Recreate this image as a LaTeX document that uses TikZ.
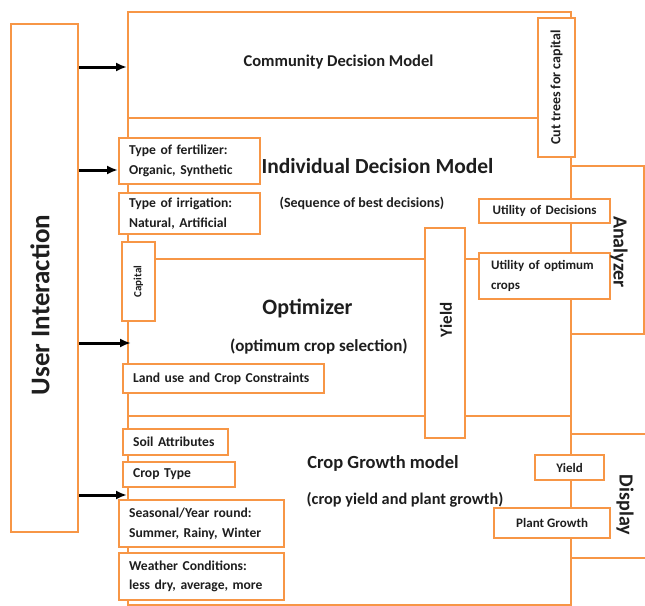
\documentclass[tikz,border=0pt]{standalone}
\usepackage{fontspec}
\setmainfont{Carlito}
\usetikzlibrary{arrows.meta}
\definecolor{frameorange}{RGB}{247,150,70}
\definecolor{inktext}{RGB}{30,30,30}
\begin{document}
\begin{tikzpicture}[x=1pt,y=-1pt,
  frame/.style={draw=frameorange, line width=2.2pt, fill=white, inner sep=0pt, anchor=north west},
  tagbox/.style={frame, align=left, inner xsep=10pt, inner ysep=0pt, text=inktext,
    font=\bfseries\fontsize{13.6}{19.5}\selectfont},
  ctrbox/.style={frame, align=center, text=inktext, font=\bfseries\fontsize{13}{16}\selectfont},
  heading/.style={inner sep=0pt, text=inktext, font=\bfseries\fontsize{#1}{#1}\selectfont},
  heading/.default=14,
  arrow/.style={draw=black, line width=3pt, -{Latex[length=11pt,width=9pt]}}
]
\useasboundingbox (0,0) rectangle (645,605);

% model layers
\node[frame, minimum width=443pt, minimum height=106pt] (community)  at (127,11)  {};
\node[frame, minimum width=443pt, minimum height=141pt] (individual) at (127,117) {};
\node[frame, minimum width=443pt, minimum height=157pt] (optimizer)  at (127,258) {};
\node[frame, minimum width=443pt, minimum height=189pt] (growth)     at (127,415) {};

% side panels
\node[frame, minimum width=73pt, minimum height=168pt] (analyzer) at (570,165) {};
\node[frame, minimum width=82pt, minimum height=124pt] (display)  at (570,433) {};
\node[frame, minimum width=67pt, minimum height=508pt] (ui)       at (10,23)   {};

% vertical boxes
\node[frame, anchor=center, rotate=90, minimum width=139pt, minimum height=37pt,
      text=inktext, font=\bfseries\fontsize{14}{14}\selectfont] (cut) at (556.5,87.5) {Cut trees for capital};
\node[frame, anchor=center, rotate=90, minimum width=79pt, minimum height=33pt,
      text=inktext, font=\bfseries\fontsize{11}{11}\selectfont] (capital) at (138.5,281.5) {Capital};
\node[frame, anchor=center, rotate=90, minimum width=210pt, minimum height=40pt] (yieldbox) at (445,333) {};

% inputs on the left
\node[tagbox, minimum height=46pt, text width=121pt] (fert)     at (118,137) {Type of fertilizer:\\Organic, Synthetic};
\node[tagbox, minimum height=41pt, text width=121pt] (irr)      at (118,192) {Type of irrigation:\\Natural, Artificial};
\node[tagbox, minimum height=29pt, text width=181pt] (land)     at (122,363) {Land use and Crop Constraints};
\node[tagbox, minimum height=26pt, text width=85pt]  (soil)     at (122,428) {Soil Attributes};
\node[tagbox, minimum height=25pt, text width=92pt]  (croptype) at (122,461) {Crop Type};
\node[tagbox, minimum height=47pt, text width=145pt] (seasonal) at (118,499) {Seasonal/Year round:\\Summer, Rainy, Winter};
\node[tagbox, minimum height=47pt, text width=145pt] (weather)  at (118,552) {Weather Conditions:\\less dry, average, more};

% outputs on the right
\node[tagbox, align=center, minimum height=24pt, text width=111pt,
      font=\bfseries\fontsize{13}{16}\selectfont] (utildec) at (478,198) {Utility of Decisions};
\node[tagbox, inner xsep=12pt, minimum height=46pt, text width=107pt,
      font=\bfseries\fontsize{13}{19.5}\selectfont] (utilopt) at (478,252) {Utility of optimum\\crops};
\node[ctrbox, minimum width=69pt, minimum height=25pt]  (yieldout) at (534,454) {Yield};
\node[ctrbox, minimum width=116pt, minimum height=30pt] (plant)    at (493,507) {Plant Growth};

% titles
\node[heading=16.5] (commtxt) at (338.5,62) {Community Decision Model};
\node[heading=21.5] (indtxt)  at (377.5,166) {Individual Decision Model};
\node[heading=14]   (seqtxt)  at (362,203) {(Sequence of best decisions)};
\node[heading=22]   (opttxt)  at (307.5,308) {Optimizer};
\node[heading=17]   (optsub)  at (319,347) {(optimum crop selection)};
\node[heading=18.5] (growtxt) at (383,463) {Crop Growth model};
\node[heading=16.3] (growsub) at (405,500) {(crop yield and plant growth)};
\node[heading=27, rotate=90]  (uitxt)    at (40,305)  {User Interaction};
\node[heading=20, rotate=-90] (anatxt)   at (619,252) {Analyzer};
\node[heading=20, rotate=-90] (distxt)   at (625,505) {Display};
\node[heading=17, rotate=90]  (yieldtxt) at (446,320) {Yield};

% user interaction feeds
\coordinate (in1) at (127,67);
\coordinate (in2) at (118,170);
\coordinate (in3) at (131,343);
\coordinate (in4) at (127,495);
\draw[arrow] (ui.east |- in1) -- (in1);
\draw[arrow] (ui.east |- in2) -- (in2);
\draw[arrow] (ui.east |- in3) -- (in3);
\draw[arrow] (ui.east |- in4) -- (in4);
\end{tikzpicture}
\end{document}
